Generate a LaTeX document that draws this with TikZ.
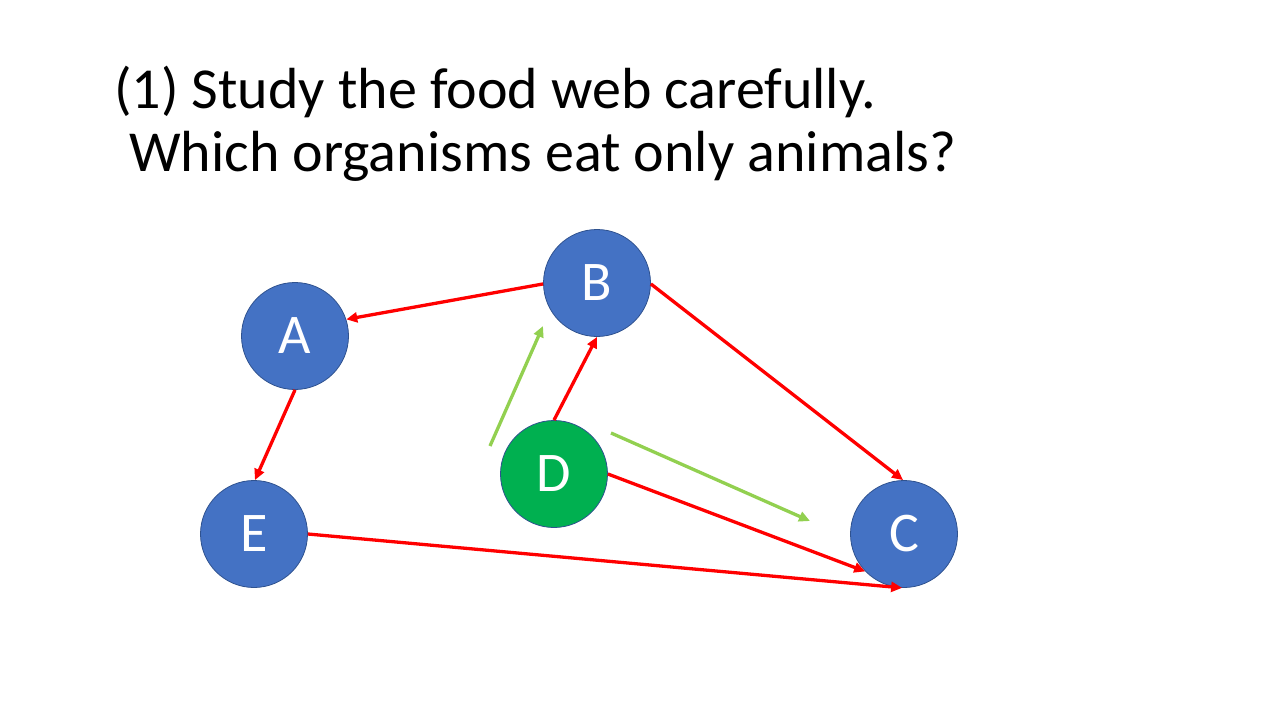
\documentclass[tikz,border=0pt]{standalone}
\usepackage{fontspec}
\setmainfont{Carlito}
\usetikzlibrary{arrows.meta}
\definecolor{nodeblue}{HTML}{4472C4}
\definecolor{edgeblue}{HTML}{2F528F}
\definecolor{dgreen}{HTML}{00B050}
\definecolor{lgreen}{HTML}{92D050}
\definecolor{ared}{HTML}{FF0000}
\tikzset{
  org/.style={circle, fill=nodeblue, draw=edgeblue, line width=0.8pt, minimum size=107pt, inner sep=0pt,
    text=white, font=\fontsize{56}{64}\selectfont},
  plant/.style={org, fill=dgreen},
  redarrow/.style={draw=ared, line width=3.3pt, -{Triangle[length=11pt,width=10pt]}},
  greenarrow/.style={draw=lgreen, line width=3.3pt, -{Triangle[length=11pt,width=10pt]}},
  titletext/.style={anchor=base west, inner sep=0pt, font=\fontsize{58}{68}\selectfont}
}
\begin{document}
\begin{tikzpicture}[x=1pt,y=-1pt]
\useasboundingbox (0,0) rectangle (1280,720);
\node[titletext] (t1) at (114,108) {(1) Study the food web carefully.};
\node[titletext] (t2) at (129,171) {Which organisms eat only animals?};

\node[org] (A) at (295,336) {A};
\node[org] (B) at (597,283) {B};
\node[org] (C) at (904,534) {C};
\node[org] (E) at (254,534) {E};
\node[plant] (D) at (554,474) {D};

\coordinate (g1s) at (490,446);
\coordinate (g1e) at (543,326);
\coordinate (g2s) at (611,433);
\coordinate (g2e) at (810,521);

\draw[redarrow] (B.181) -- (A.18);
\draw[redarrow] (A.270) -- (E.89);
\draw[redarrow] (B.-1) -- (C.91);
\draw[redarrow] (D.90) -- (B.270);
\draw[redarrow] (D.0) -- (C.224);
\draw[redarrow] (E.0) -- (C.268);
\draw[greenarrow] (g1s) -- (g1e);
\draw[greenarrow] (g2s) -- (g2e);
\end{tikzpicture}
\end{document}
